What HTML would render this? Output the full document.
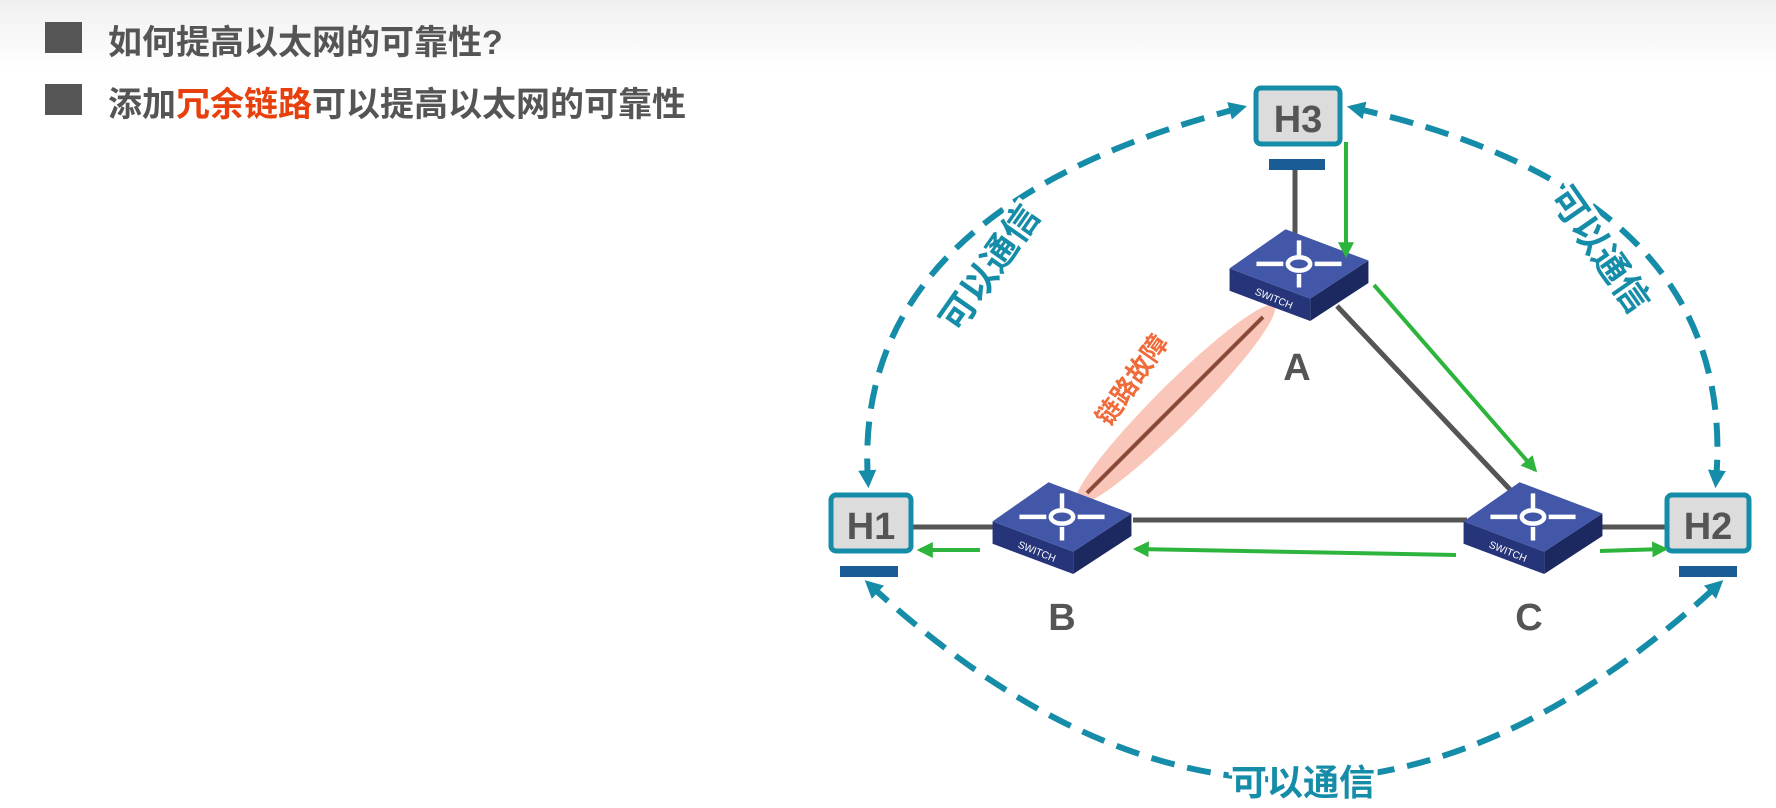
<!DOCTYPE html>
<html><head><meta charset="utf-8"><style>
html,body{margin:0;padding:0;width:1776px;height:808px;background:#fff;overflow:hidden}
.hd{position:absolute;left:0;top:0;width:1776px;height:70px;background:linear-gradient(#f0f0f0,#fff)}
.b{position:absolute;left:45px;width:37px;height:31px;background:#555}
.t{position:absolute;left:108px;font:bold 34px "Liberation Sans","Noto Sans CJK SC",sans-serif;color:#555;white-space:nowrap}
</style></head><body>
<div class="hd"></div>
<div class="b" style="top:22px"></div>
<div class="t" style="top:15px">如何提高以太网的可靠性?</div>
<div class="b" style="top:84px"></div>
<div class="t" style="top:77px">添加<span style="color:#e8400c">冗余链路</span>可以提高以太网的可靠性</div>
<svg width="1776" height="808" style="position:absolute;left:0;top:0" font-family="Liberation Sans, Noto Sans CJK SC, sans-serif">
<defs>
<marker id="ta" viewBox="0 0 10 10" refX="6" refY="5" markerWidth="18" markerHeight="18" orient="auto-start-reverse" markerUnits="userSpaceOnUse"><path d="M0,0 L10,5 L0,10 z" fill="#168da8"/></marker>
<marker id="ga" viewBox="0 0 10 10" refX="8" refY="5" markerWidth="16" markerHeight="16" orient="auto" markerUnits="userSpaceOnUse"><path d="M0,0 L10,5 L0,10 z" fill="#2db43c"/></marker>
<g id="sw0">
<polygon points="-62,-5 10,22 10,42 -62,15" fill="#26357a"/>
<polygon points="10,22 62,-12 62,8 10,42" fill="#1c2860"/>
<polygon points="-62,-5 -12,-40 62,-12 10,22" fill="#4257a8"/>
<g stroke="#fff" stroke-width="4" fill="none"><ellipse cx="0" cy="-9" rx="10" ry="6"/><path d="M-38,-9 H-14 M14,-9 H38 M0,-30 V-17 M0,0 V12"/></g>
<text x="-40" y="18" font-size="9" fill="#fff" transform="rotate(22 -40 18)">SWITCH</text>
</g>
<g id="sw"><use href="#sw0" transform="scale(1.12)"/></g>
</defs>
<g fill="none" stroke="#168da8" stroke-width="6" stroke-dasharray="24,13">
<path d="M1240,108 Q850,210 868,481" marker-start="url(#ta)" marker-end="url(#ta)"/>
<path d="M1354,108 Q1740,195 1716,481" marker-start="url(#ta)" marker-end="url(#ta)"/>
<path d="M870,585 Q1294,975 1718,585" marker-start="url(#ta)" marker-end="url(#ta)"/>
</g>
<ellipse cx="1175" cy="405" rx="140" ry="20" fill="#f8b8a8" opacity="0.8" transform="rotate(-45 1175 405)"/>
<g stroke="#555" stroke-width="5">
<line x1="1295" y1="170" x2="1295" y2="244"/>
<line x1="1337" y1="306" x2="1518" y2="498"/>
<line x1="1133" y1="520" x2="1467" y2="520"/>
<line x1="912" y1="527" x2="1000" y2="527"/>
<line x1="1600" y1="527" x2="1665" y2="527"/>
</g>
<line x1="1263" y1="317" x2="1087" y2="493" stroke="#8a4a3a" stroke-width="4"/>
<g>
<rect x="1256" y="88" width="84" height="56" rx="5" fill="#dcdcdc" stroke="#168da8" stroke-width="5"/>
<rect x="1269" y="159" width="56" height="11" fill="#1a5c96"/>
<text x="1298" y="132" font-size="38" font-weight="bold" fill="#555" text-anchor="middle">H3</text>
<rect x="831" y="495" width="80" height="56" rx="5" fill="#dcdcdc" stroke="#168da8" stroke-width="5"/>
<rect x="840" y="566" width="58" height="11" fill="#1a5c96"/>
<text x="871" y="539" font-size="38" font-weight="bold" fill="#555" text-anchor="middle">H1</text>
<rect x="1667" y="495" width="82" height="56" rx="5" fill="#dcdcdc" stroke="#168da8" stroke-width="5"/>
<rect x="1679" y="566" width="58" height="11" fill="#1a5c96"/>
<text x="1708" y="539" font-size="38" font-weight="bold" fill="#555" text-anchor="middle">H2</text>
</g>
<use href="#sw" x="1299" y="274"/>
<use href="#sw" x="1062" y="527"/>
<use href="#sw" x="1533" y="527"/>
<g font-size="38" font-weight="bold" fill="#555" text-anchor="middle">
<text x="1297" y="380">A</text><text x="1062" y="630">B</text><text x="1529" y="630">C</text>
</g>
<g stroke="#2db43c" stroke-width="4" marker-end="url(#ga)">
<line x1="1346" y1="142" x2="1346" y2="255"/>
<line x1="1374" y1="285" x2="1535" y2="470"/>
<line x1="1456" y1="555" x2="1136" y2="549"/>
<line x1="980" y1="550" x2="920" y2="550"/>
<line x1="1600" y1="551" x2="1665" y2="549"/>
</g>
<g font-size="36" font-weight="bold" fill="#168da8" text-anchor="middle" stroke="#fff" stroke-width="8" paint-order="stroke">
<text x="0" y="12" transform="translate(990,268) rotate(-55)">可以通信</text>
<text x="0" y="12" transform="translate(1600,250) rotate(55)">可以通信</text>
<text x="1303" y="795">可以通信</text>
</g>
<text x="0" y="9" transform="translate(1132,380) rotate(-55)" font-size="26" font-weight="bold" fill="#f06a3a" text-anchor="middle" stroke="#fff" stroke-width="3" paint-order="stroke">链路故障</text>
</svg>
</body></html>
